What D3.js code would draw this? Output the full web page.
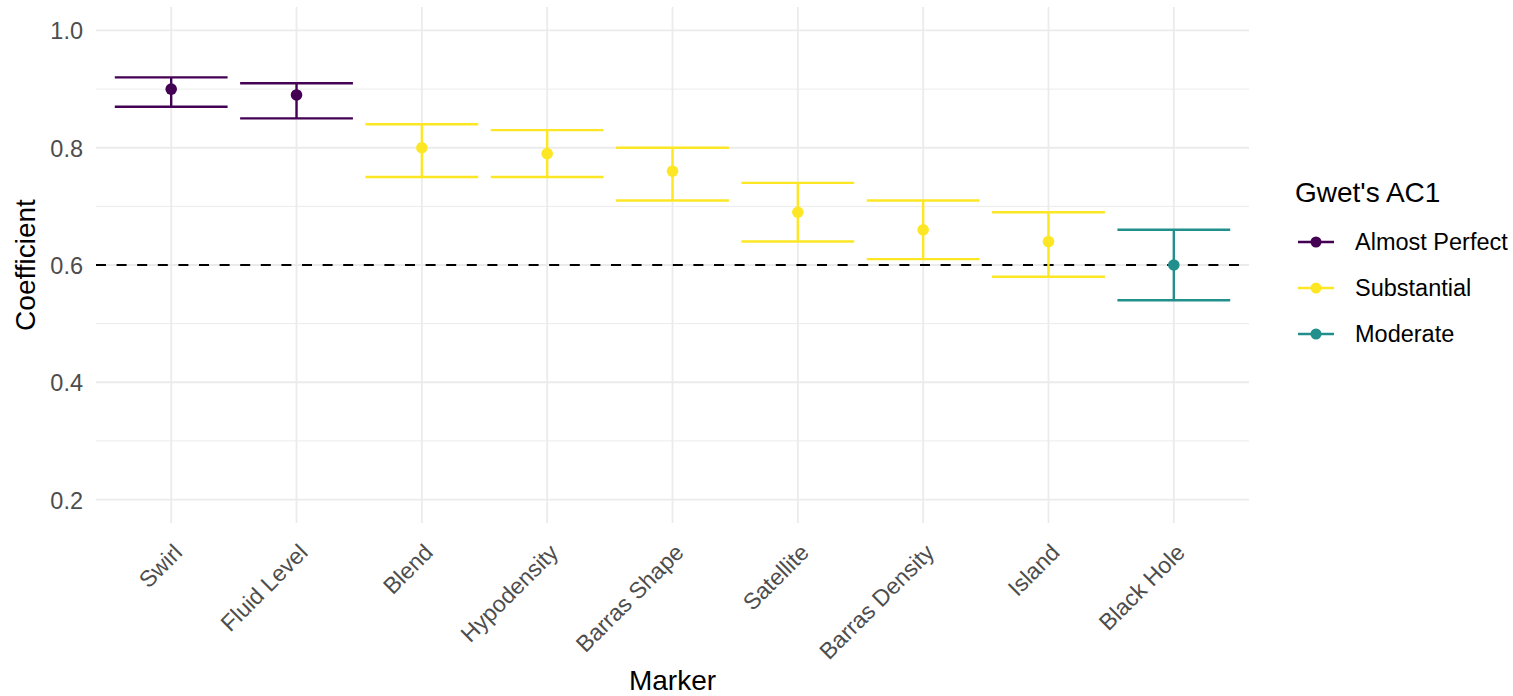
<!DOCTYPE html>
<html>
<head>
<meta charset="utf-8">
<script src="https://cdn.jsdelivr.net/npm/d3@7"></script>
<style>
  html, body { margin: 0; padding: 0; background: #ffffff; }
  svg { display: block; font-family: "Liberation Sans", Arial, Helvetica, sans-serif; }
</style>
</head>
<body>
<svg id="chart" width="1513" height="696"></svg>
<script>
// Agreement per imaging marker (Gwet's AC1 with 95% CI)
const markers  = ["Swirl", "Fluid Level", "Blend", "Hypodensity", "Barras Shape", "Satellite", "Barras Density", "Island", "Black Hole"];
const estimate = [0.90, 0.89, 0.80, 0.79, 0.76, 0.69, 0.66, 0.64, 0.60];
const ciLower  = [0.87, 0.85, 0.75, 0.75, 0.71, 0.64, 0.61, 0.58, 0.54];
const ciUpper  = [0.92, 0.91, 0.84, 0.83, 0.80, 0.74, 0.71, 0.69, 0.66];
const level    = ["Almost Perfect", "Almost Perfect", "Substantial", "Substantial", "Substantial", "Substantial", "Substantial", "Substantial", "Moderate"];

const levelNames  = ["Almost Perfect", "Substantial", "Moderate"];
const levelColors = ["#440154", "#FDE725", "#21908C"];
const yTicks      = [0.2, 0.4, 0.6, 0.8, 1.0];
const yMinor      = [0.3, 0.5, 0.7, 0.9];
const threshold   = 0.6;

const rows = markers.map((m, i) => ({
  marker: m, est: estimate[i], lo: ciLower[i], hi: ciUpper[i], level: level[i]
}));

const svg = d3.select("#chart");
const panel = { left: 96, right: 1249, top: 7, bottom: 523 };

// y limits 0.2..1.0 with 5% expansion
const y = d3.scaleLinear().domain([0.16, 1.04]).range([panel.bottom, panel.top]);
// discrete axis with 0.6 units of padding on each side
const step = (panel.right - panel.left) / (markers.length - 1 + 1.2);
const x = d3.scalePoint().domain(markers)
  .range([panel.left + 0.6 * step, panel.right - 0.6 * step]);
const color = d3.scaleOrdinal().domain(levelNames).range(levelColors);

const grid = svg.append("g");
grid.selectAll("line.minor").data(yMinor).join("line")
  .attr("x1", panel.left).attr("x2", panel.right)
  .attr("y1", d => y(d)).attr("y2", d => y(d))
  .attr("stroke", "#ebebeb").attr("stroke-width", 1);
grid.selectAll("line.major").data(yTicks).join("line")
  .attr("x1", panel.left).attr("x2", panel.right)
  .attr("y1", d => y(d)).attr("y2", d => y(d))
  .attr("stroke", "#ebebeb").attr("stroke-width", 1.8);
grid.selectAll("line.vx").data(markers).join("line")
  .attr("x1", d => x(d)).attr("x2", d => x(d))
  .attr("y1", panel.top).attr("y2", panel.bottom)
  .attr("stroke", "#ebebeb").attr("stroke-width", 1.8);

// y axis tick labels
const yAxis = d3.axisLeft(y).tickValues(yTicks).tickFormat(d3.format(".1f")).tickSize(0).tickPadding(0);
const gy = svg.append("g").attr("transform", `translate(${panel.left - 13},0)`).call(yAxis);
gy.select(".domain").remove();
gy.selectAll("text").attr("fill", "#4d4d4d").attr("font-size", 23.5)
  .attr("font-family", "Liberation Sans, Arial, sans-serif").attr("dy", "0.36em");

// x axis tick labels, rotated 45 degrees
const xAxis = d3.axisBottom(x).tickSize(0).tickPadding(0);
const gx = svg.append("g").attr("transform", `translate(0,${panel.bottom})`).call(xAxis);
gx.select(".domain").remove();
gx.selectAll("text")
  .attr("fill", "#4d4d4d").attr("font-size", 23)
  .attr("font-family", "Liberation Sans, Arial, sans-serif")
  .attr("text-anchor", "end").attr("dy", 0).attr("y", 0)
  .attr("transform", "translate(12,31) rotate(-45)");

// threshold line
svg.append("line")
  .attr("x1", panel.left).attr("x2", panel.right)
  .attr("y1", y(threshold)).attr("y2", y(threshold))
  .attr("stroke", "#000").attr("stroke-width", 2.2)
  .attr("stroke-dasharray", "10,10.6");

// error bars
const capHalf = 0.45 * step;
const bars = svg.append("g").selectAll("g").data(rows).join("g")
  .attr("stroke", d => color(d.level)).attr("stroke-width", 2.4);
bars.append("line")
  .attr("x1", d => x(d.marker)).attr("x2", d => x(d.marker))
  .attr("y1", d => y(d.lo)).attr("y2", d => y(d.hi));
bars.append("line")
  .attr("x1", d => x(d.marker) - capHalf).attr("x2", d => x(d.marker) + capHalf)
  .attr("y1", d => y(d.lo)).attr("y2", d => y(d.lo));
bars.append("line")
  .attr("x1", d => x(d.marker) - capHalf).attr("x2", d => x(d.marker) + capHalf)
  .attr("y1", d => y(d.hi)).attr("y2", d => y(d.hi));

// point estimates
svg.append("g").selectAll("circle").data(rows).join("circle")
  .attr("cx", d => x(d.marker)).attr("cy", d => y(d.est)).attr("r", 5.8)
  .attr("fill", d => color(d.level));

// axis titles
svg.append("text").attr("x", (panel.left + panel.right) / 2).attr("y", 690)
  .attr("text-anchor", "middle").attr("font-size", 28).attr("fill", "#000").text("Marker");
svg.append("text").attr("transform", `translate(35,${y(0.6)}) rotate(-90)`)
  .attr("text-anchor", "middle").attr("font-size", 28).attr("fill", "#000").text("Coefficient");

// legend
const legend = svg.append("g").attr("transform", "translate(1295,0)");
legend.append("text").attr("x", 0).attr("y", 202).attr("font-size", 28).attr("fill", "#000").text("Gwet's AC1");
const items = legend.selectAll("g.item").data(levelNames).join("g")
  .attr("transform", (d, i) => `translate(0,${242 + i * 46})`);
items.append("line").attr("x1", 3).attr("x2", 39).attr("y1", 0).attr("y2", 0)
  .attr("stroke", d => color(d)).attr("stroke-width", 2.4);
items.append("circle").attr("cx", 21).attr("cy", 0).attr("r", 5.5).attr("fill", d => color(d));
items.append("text").attr("x", 60).attr("y", 0).attr("dy", "0.36em")
  .attr("font-size", 23.5).attr("fill", "#000").text(d => d);
</script>
</body>
</html>
